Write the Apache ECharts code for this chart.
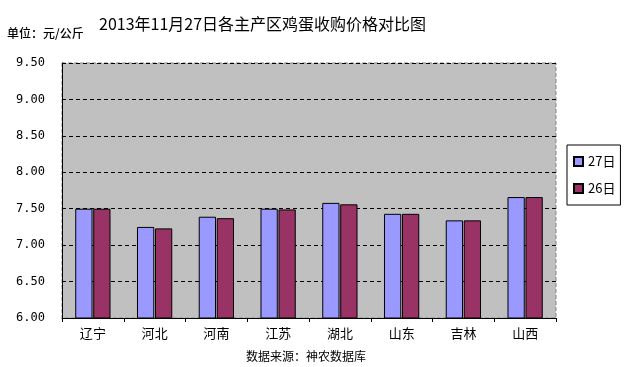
<!DOCTYPE html>
<html><head><meta charset="utf-8">
<script src="https://cdn.jsdelivr.net/npm/echarts@6/dist/echarts.min.js"></script>
<style>html,body{margin:0;padding:0;background:#fff}#c{width:633px;height:367px}</style>
</head><body><div id="c"></div>
<script>
var categories = ['辽宁','河北','河南','江苏','湖北','山东','吉林','山西'];
var s27 = [7.50, 7.25, 7.39, 7.50, 7.58, 7.43, 7.34, 7.66];
var s26 = [7.50, 7.23, 7.37, 7.49, 7.56, 7.43, 7.34, 7.66];
var seriesNames = ['27日','26日'];
var yTicks = {min: 6.0, max: 9.5, interval: 0.5};

var chart = echarts.init(document.getElementById('c'));
var font = '"Noto Sans CJK SC", sans-serif';
chart.setOption({
  animation: false,
  backgroundColor: '#ffffff',
  title: [
    {text: '2013年11月27日各主产区鸡蛋收购价格对比图', left: 94, top: 11,
     textStyle: {fontFamily: font, fontSize: 16, fontWeight: 'normal', color: '#000'}},
    {text: '单位：元/公斤', left: 2, top: 22,
     textStyle: {fontFamily: font, fontSize: 12, fontWeight: 500, color: '#000'}},
    {text: '数据来源：神农数据库', left: 241, top: 345,
     textStyle: {fontFamily: font, fontSize: 12, fontWeight: 'normal', color: '#000'}}
  ],
  grid: {left: 62, right: 77, top: 63, bottom: 49, show: true, backgroundColor: '#c0c0c0',
         borderColor: '#888', borderWidth: 1, borderType: 'dashed'},
  legend: {orient: 'vertical', left: 567, top: 145, width: 51,
    itemWidth: 9, itemHeight: 9, itemGap: 14, padding: [10, 5, 10, 6],
    borderColor: '#000', borderWidth: 1, backgroundColor: '#fff',
    textStyle: {fontFamily: font, fontSize: 13, color: '#000'},
    data: [{name: seriesNames[0], icon: 'rect'}, {name: seriesNames[1], icon: 'rect'}]},
  xAxis: {type: 'category', data: categories,
    axisLine: {lineStyle: {color: '#000', width: 1}},
    axisTick: {show: true, length: 4, inside: false, lineStyle: {color: '#000'}},
    axisLabel: {fontFamily: font, fontSize: 13, color: '#000', margin: 9}},
  yAxis: {type: 'value', min: yTicks.min, max: yTicks.max, interval: yTicks.interval,
    axisLine: {show: true, lineStyle: {color: '#000', width: 1}},
    axisTick: {show: false},
    axisLabel: {fontFamily: '"DejaVu Sans Mono", monospace', fontSize: 12, color: '#000', margin: 17,
      formatter: function(v){return v.toFixed(2);}},
    splitLine: {show: true, lineStyle: {color: '#000', type: [4, 3], width: 1}}},
  series: [
    {name: seriesNames[0], type: 'bar', data: s27, barWidth: '28%', barGap: '4%',
     itemStyle: {color: '#9999ff', borderColor: '#000', borderWidth: 1}},
    {name: seriesNames[1], type: 'bar', data: s26, barWidth: '28%',
     itemStyle: {color: '#993366', borderColor: '#000', borderWidth: 1}}
  ]
});
</script></body></html>
